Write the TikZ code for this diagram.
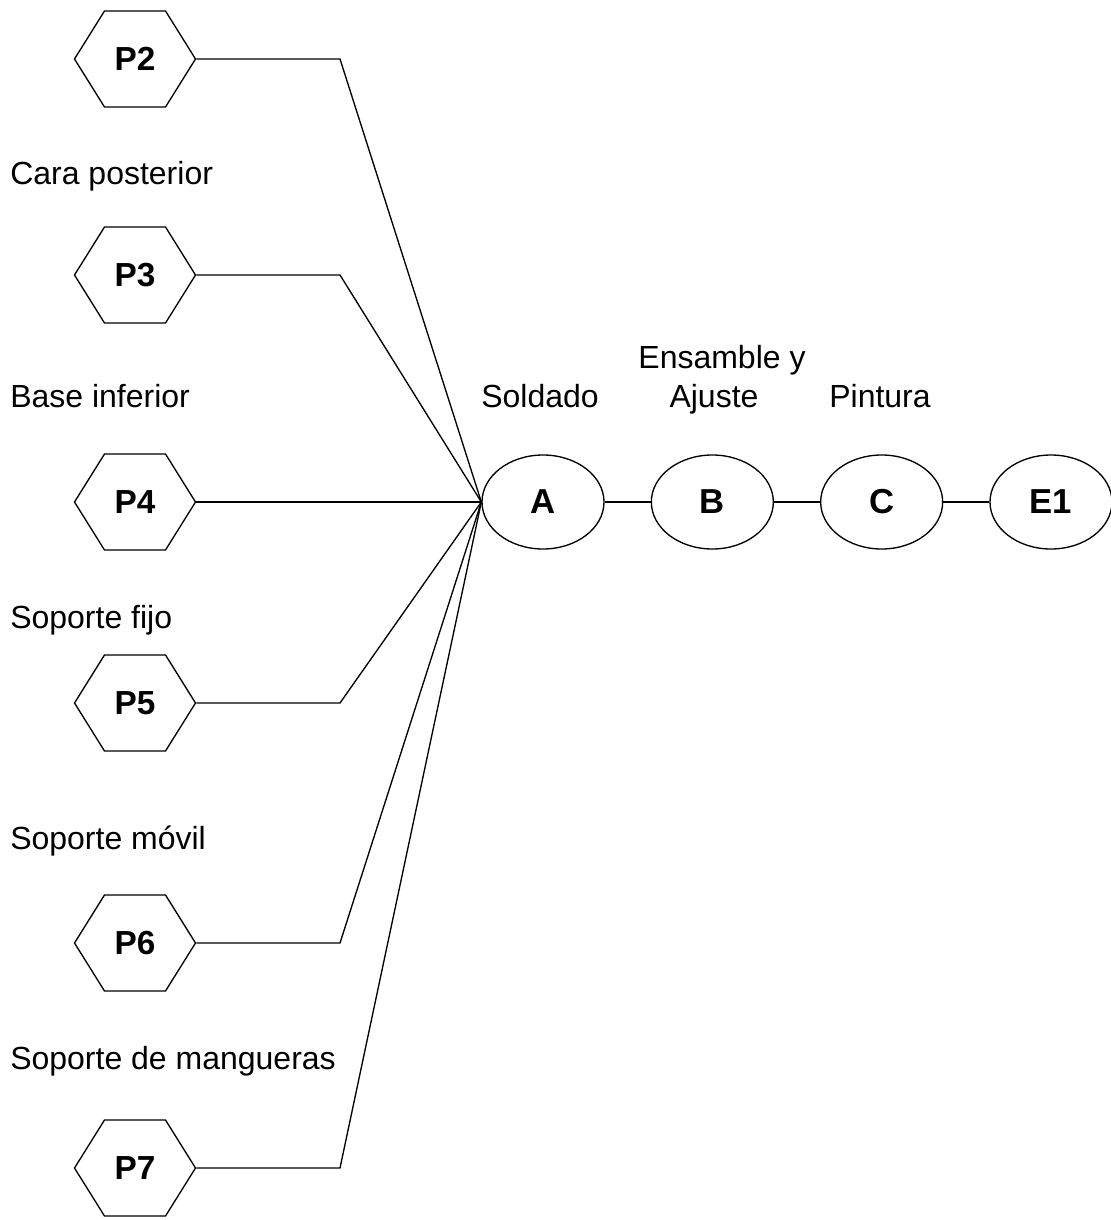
\documentclass[tikz,border=0pt]{standalone}
\usepackage{fontspec}
\setmainfont{Liberation Sans}
\usetikzlibrary{shapes.geometric, shapes.symbols, positioning}

\begin{document}
\begin{tikzpicture}[
    x=0.75pt, y=-0.75pt,
    part/.style={draw, signal, signal to=east and west, signal pointer angle=116,
        minimum width=90.75pt, minimum height=72pt, inner sep=0pt,
        font=\fontsize{25}{29}\selectfont\bfseries},
    op/.style={draw, ellipse, minimum width=91.5pt, minimum height=70.5pt, inner sep=0pt,
        font=\fontsize{26}{30}\selectfont\bfseries},
    lbl/.style={anchor=base, inner sep=0pt, font=\fontsize{24}{29}\selectfont},
    link/.style={line width=1pt}
]
\useasboundingbox (0,0) rectangle (1110,1220);
% Operations in a row
\node[op, line width=1pt] (A) at (543,502) {A};
\node[op, line width=1pt, right=34.5pt of A] (B) {B};
\node[op, line width=1pt, right=34.5pt of B] (C) {C};
\node[op, line width=1pt, right=34.5pt of C] (E1) {E1};
\draw[link] (A) -- (B);
\draw[link] (B) -- (C);
\draw[link] (C) -- (E1);
% Operation labels
\node[lbl] (lA) at (540,407) {Soldado};
\node[lbl] (lB1) at (722,368) {Ensamble y};
\node[lbl] (lB2) at (714,407) {Ajuste};
\node[lbl] (lC) at (880,407) {Pintura};
% Parts
\node[part, line width=1pt] (P2) at (135,59) {P2};
\node[part, line width=1pt] (P3) at (135,275) {P3};
\node[part, line width=1pt] (P4) at (135,502) {P4};
\node[part, line width=1pt] (P5) at (135,703) {P5};
\node[part, line width=1pt] (P6) at (135,943) {P6};
\node[part, line width=1pt] (P7) at (135,1168) {P7};
% Part labels
\node[lbl, anchor=base west] (l3) at (10,185) {Cara posterior};
\node[lbl, anchor=base west] (l4) at (10,407) {Base inferior};
\node[lbl, anchor=base west] (l5) at (10,628) {Soporte fijo};
\node[lbl, anchor=base west] (l6) at (10,849) {Soporte móvil};
\node[lbl, anchor=base west] (l7) at (10,1069) {Soporte de mangueras};
% Connectors to A
\coordinate (bend) at (340,0);
\foreach \p in {P2, P3, P5, P6, P7} {
    \draw[link] (\p.east) -- (\p.east -| bend) -- (A.west);
}
\draw[link] (P4.east) -- (A.west);
\end{tikzpicture}
\end{document}
